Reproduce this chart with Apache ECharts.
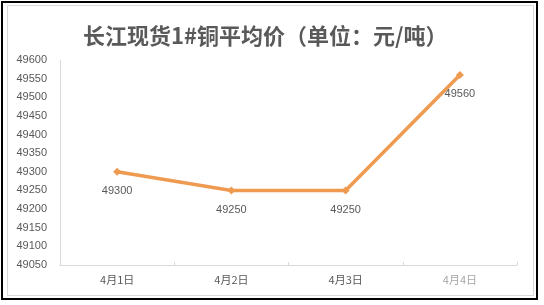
<!DOCTYPE html>
<html><head><meta charset="utf-8">
<script src="https://cdn.jsdelivr.net/npm/echarts@6/dist/echarts.min.js"></script>
<style>html,body{margin:0;padding:0;background:#fff;}#c{width:544px;height:305px;}</style>
</head><body><div id="c"></div>
<script>
var categories = ['4月1日', '4月2日', '4月3日', '4月4日'];
var prices = [49300, 49250, 49250, 49560];
var yMin = 49050, yMax = 49600, yStep = 50;
var titleText = '长江现货1#铜平均价（单位：元/吨）';

var chart = echarts.init(document.getElementById('c'), null, {renderer: 'canvas'});
chart.setOption({
  backgroundColor: '#fff',
  animation: false,
  title: {
    text: titleText, left: 78, top: 20,
    textStyle: {fontFamily: 'Noto Sans CJK SC', fontSize: 22, fontWeight: 'bold', color: '#595959'}
  },
  graphic: [
    {type: 'rect', shape: {x: 2, y: 2, width: 535, height: 297}, style: {fill: 'none', stroke: '#000', lineWidth: 2}, z: 100},
    {type: 'rect', shape: {x: 7.5, y: 5.5, width: 526, height: 290}, style: {fill: 'none', stroke: '#d9d9d9', lineWidth: 1}, z: 100}
  ],
  grid: {left: 60, right: 27, top: 60, bottom: 40, containLabel: false},
  xAxis: {
    type: 'category', data: categories, boundaryGap: true,
    axisLine: {lineStyle: {color: '#d9d9d9', width: 1}},
    axisTick: {show: true, inside: true, length: 3, lineStyle: {color: '#d9d9d9'}},
    axisLabel: {margin: 9, fontSize: 11, fontFamily: 'Noto Sans CJK SC',
      color: function (v, i) { return i === 3 ? '#a6a6a6' : '#595959'; }},
    splitLine: {show: false}
  },
  yAxis: {
    type: 'value', min: yMin, max: yMax, interval: yStep,
    axisLine: {show: true, lineStyle: {color: '#d9d9d9', width: 1}},
    axisTick: {show: false},
    axisLabel: {margin: 13, fontSize: 11, fontFamily: 'Liberation Sans', color: '#595959',
      formatter: function (v) { return String(v); }},
    splitLine: {show: false}
  },
  series: [{
    type: 'line', data: prices,
    symbol: 'diamond', symbolSize: 8,
    lineStyle: {color: '#EE9A50', width: 3.5},
    itemStyle: {color: '#EE9A50'},
    label: {show: true, position: 'bottom', distance: 10, fontSize: 11, fontFamily: 'Liberation Sans', color: '#595959'}
  }]
});
</script></body></html>
